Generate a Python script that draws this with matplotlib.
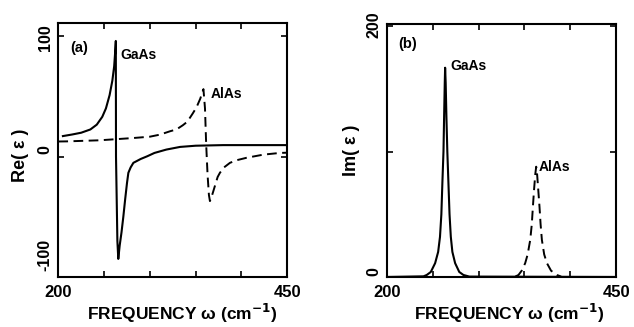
import matplotlib
matplotlib.use("Agg")
import matplotlib.pyplot as plt
import matplotlib.transforms as mtransforms

# ============================================================================
# 데이터
# ============================================================================
# (a) Re(eps) - GaAs (실선)
gaas_re_w = [205, 215, 225, 235, 242, 248, 252, 256, 259, 261, 262.2, 262.8,
			 263.0, 264.5, 265.5, 267, 269, 271, 273, 275, 276.5, 279, 282,
			 290, 297, 305, 318, 333, 350, 380, 420, 450]
gaas_re = [17, 18.3, 19.8, 22.5, 26.5, 33, 40, 51, 63, 75, 88, 96,
		   0, -70, -85, -74, -63, -50, -35.5, -22, -13.5, -9, -5.2,
		   -2, 0.2, 3, 5.8, 8, 9, 9.5, 9.5, 9.5]

# (a) Re(eps) - AlAs (점선)
alas_re_w = [200, 209, 245, 282, 300, 311, 322, 329, 336, 341, 347, 351, 355,
			 358.5, 360.2, 361.5, 363, 364.5, 365.6, 368, 371, 374, 376.5, 381,
			 387.5, 395, 405.7, 424, 442, 450]
alas_re = [12.5, 12.6, 13.5, 15.4, 16.5, 18.2, 21, 22.5, 26, 29, 36, 41, 48,
		   56, 40, 10, -15, -32, -37, -32, -24.5, -17, -13.5, -9,
		   -5.2, -3, -1, 1.6, 3, 3.2]

# (b) Im(eps) - GaAs
gaas_im_w = [200, 240, 243.6, 248, 252.7, 256, 258, 259.5, 260.6, 261.8, 262.5,
			 263.2, 263.6, 264.2, 265.0, 266, 267.2, 268.4, 269.8, 271.5, 274.5,
			 279, 283.5, 290, 450]
gaas_im = [0, 0.5, 1.6, 4, 11, 20, 32, 50, 75, 100, 128,
		   155, 167, 155, 128, 100, 75, 50, 32, 20, 11,
		   4, 1.6, 0.3, 0]

# (b) Im(eps) - AlAs
alas_im_w = [340, 343.5, 347, 350.8, 353.5, 356.3, 358, 359.2, 360.5, 361.8,
			 362.8, 363.8, 365, 366.4, 367.6, 369, 371.5, 374.5, 379, 385.4, 390]
alas_im = [0.3, 1.6, 5, 11, 18, 29.6, 42, 56, 70, 82,
		   88, 82, 70, 56, 42, 29.6, 18, 11, 5, 1.6, 0.3]

x_ticks = [200, 250, 300, 350, 400, 450]
x_tick_labels = ['200', '', '', '', '', '450']

# y 눈금 라벨: (라벨 중심 위치, 라벨) - 축 안쪽으로 밀려 있음
re_yticks = [-100, 0, 100]
re_ylabels = [(-82, '-100'), (5.8, '0'), (99, '100')]
im_yticks = [0, 100, 200]
im_ylabels = [(4, '0'), (201, '200')]

# ============================================================================
# 그림 설정
# ============================================================================
plt.rcParams['font.family'] = ['Liberation Sans', 'DejaVu Sans']
plt.rcParams['font.weight'] = 'bold'
plt.rcParams['axes.linewidth'] = 1.5

fig = plt.figure(figsize=(6.34, 3.27), dpi=100)
ax_re = fig.add_axes([0.092, 0.153, 0.361, 0.777])
ax_im = fig.add_axes([0.610, 0.153, 0.362, 0.774])

line_kw = dict(color='black', linewidth=1.5)
dash_kw = dict(color='black', linewidth=1.4, linestyle=(0, (5, 2.8)))


def style_axes(ax, yticks, ylabels, label_x):
	"""공통 축 스타일: 안쪽 눈금, 네 면 모두, 세로로 쓴 y 라벨"""
	ax.set_xlim(200, 450)
	ax.set_xticks(x_ticks)
	ax.set_xticklabels(x_tick_labels, fontsize=12, fontweight='bold')
	ax.set_yticks(yticks)
	ax.set_yticklabels([])
	ax.tick_params(direction='in', length=4, width=1.2, top=True, right=True)
	ax.tick_params(axis='x', pad=6)
	trans = mtransforms.blended_transform_factory(ax.transAxes, ax.transData)
	for yv, txt in ylabels:
		ax.text(label_x, yv, txt, transform=trans, rotation=90, ha='center',
				va='center', fontsize=11.5, fontweight='bold')


# ----- (a) 실수부 -----
ax_re.plot(gaas_re_w, gaas_re, **line_kw)
ax_re.plot(alas_re_w, alas_re, **dash_kw)
ax_re.set_ylim(-100, 111)
style_axes(ax_re, re_yticks, re_ylabels, -0.058)
ax_re.set_ylabel('Re( ε )', fontsize=13, fontweight='bold')
ax_re.yaxis.set_label_coords(-0.128, 0.48)
ax_re.text(0.05, 0.93, '(a)', transform=ax_re.transAxes, fontsize=10.5,
		   fontweight='bold', va='top')
ax_re.text(267.4, 84, 'GaAs', fontsize=10, fontweight='bold', va='center')
ax_re.text(366.7, 52, 'AlAs', fontsize=10, fontweight='bold', va='center')
fig.text(0.288, 0.04, 'FREQUENCY ω (cm$^{-1}$)', fontsize=12.5,
		 fontweight='bold', ha='center', va='center')

# ----- (b) 허수부 -----
ax_im.plot(gaas_im_w, gaas_im, **line_kw)
ax_im.plot(alas_im_w, alas_im, **dash_kw)
ax_im.set_ylim(0, 202)
style_axes(ax_im, im_yticks, im_ylabels, -0.055)
ax_im.set_ylabel('Im( ε )', fontsize=13, fontweight='bold')
ax_im.yaxis.set_label_coords(-0.116, 0.5)
ax_im.text(0.05, 0.95, '(b)', transform=ax_im.transAxes, fontsize=10.5,
		   fontweight='bold', va='top')
ax_im.text(269, 168, 'GaAs', fontsize=10, fontweight='bold', va='center')
ax_im.text(365, 88, 'AlAs', fontsize=10, fontweight='bold', va='center')
fig.text(0.803, 0.04, 'FREQUENCY ω (cm$^{-1}$)', fontsize=12.5,
		 fontweight='bold', ha='center', va='center')

fig.savefig('out.png', dpi=100)
